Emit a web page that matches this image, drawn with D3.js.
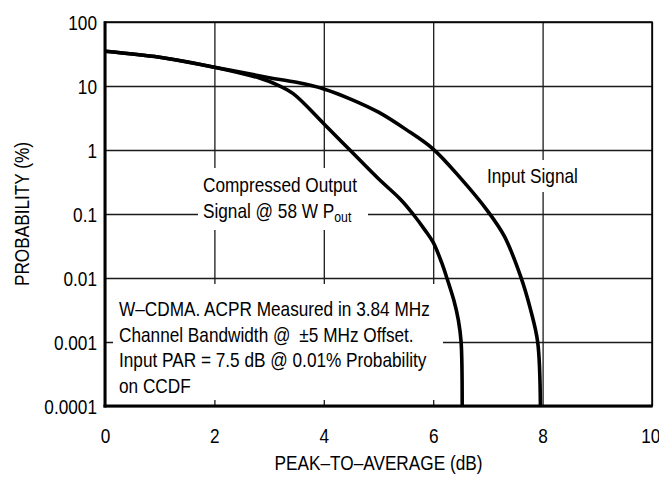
<!DOCTYPE html>
<html><head><meta charset="utf-8">
<script src="https://cdn.jsdelivr.net/npm/d3@7"></script>
<style>body{margin:0;background:#fff}svg{display:block}</style>
</head><body><svg id="c" width="659" height="477"></svg>
<script>
// ---- data ----
const xTicks = [0, 2, 4, 6, 8, 10];
const xTickLabels = ["0", "2", "4", "6", "8", "10"];
const yTicks = [0.0001, 0.001, 0.01, 0.1, 1, 10, 100];
const yTickLabels = ["0.0001", "0.001", "0.01", "0.1", "1", "10", "100"];

const inputDb   = [0, 1, 2, 3, 3.5, 4, 4.5, 5, 5.5, 6, 6.5, 7, 7.3, 7.6, 7.78, 7.91, 7.96];
const inputProb = [35, 28.2, 19.7, 13.5, 11.4, 9.0, 6.2, 3.9, 2.1, 1.035, 0.363, 0.11, 0.045, 0.0105, 0.0032, 0.001, 0.0001];

const compDb   = [0, 1, 2, 2.835, 3.14, 3.44, 4, 4.5, 5, 5.4, 5.63, 5.85, 6, 6.15, 6.25, 6.38, 6.46, 6.51, 6.53];
const compProb = [35, 28.2, 19.7, 13.2, 10.5, 7.6, 2.57, 0.955, 0.355, 0.17, 0.1, 0.056, 0.036, 0.0178, 0.01, 0.0044, 0.0022, 0.001, 0.0001];

const xTitle = "PEAK\u2013TO\u2013AVERAGE (dB)";
const yTitle = "PROBABILITY (%)";
const compLabel1 = "Compressed Output";
const compLabel2 = "Signal @ 58 W P";
const compLabelSub = "out";
const inputLabel = "Input Signal";
const noteLines = [
  "W\u2013CDMA. ACPR Measured in 3.84 MHz",
  "Channel Bandwidth @ ",
  "Input PAR = 7.5 dB @ 0.01% Probability",
  "on CCDF"
];
const noteLine2b = "\u00B15 MHz Offset.";

// ---- font detection ----
function hasFont(name) {
  const c = document.createElement("canvas").getContext("2d");
  const s = "Compressed Output 0123456789 WMmwi";
  c.font = "21px monospace"; const a = c.measureText(s).width;
  c.font = "21px '" + name + "', monospace"; const b = c.measureText(s).width;
  return Math.abs(a - b) > 0.5;
}
let FONT = "'Liberation Sans', Arial, sans-serif", SX = 0.82;
if (hasFont("Liberation Sans Narrow")) { FONT = "'Liberation Sans Narrow', sans-serif"; SX = 1; }
else if (hasFont("Arial Narrow")) { FONT = "'Arial Narrow', sans-serif"; SX = 1; }
const FS = 21;

// ---- layout ----
const L = 105, R = 652, T = 22, B = 406;
const svg = d3.select("#c");
const x = d3.scaleLinear().domain([0, 10]).range([L, R]);
const y = d3.scaleLog().domain([0.0001, 100]).range([B, T]);

function squeeze(sel) {
  sel.each(function () {
    const t = d3.select(this);
    const tx = +t.attr("x") || 0, ty = +t.attr("y") || 0;
    t.attr("x", null).attr("y", null)
     .attr("transform", `translate(${tx},${ty}) scale(${SX},1)`);
  });
}
function addText(g, tx, ty, str, anchor, size) {
  return g.append("text")
    .attr("transform", `translate(${tx},${ty}) scale(${SX},1)`)
    .attr("text-anchor", anchor || "start")
    .attr("font-family", FONT).attr("font-size", size || FS)
    .attr("fill", "#000").text(str);
}

// ---- grid via axes ----
const gx = svg.append("g").attr("transform", `translate(0,${B})`)
  .call(d3.axisBottom(x).tickValues(xTicks).tickFormat((d, i) => xTickLabels[i])
    .tickSizeInner(-(B - T)).tickSizeOuter(0).tickPadding(22));
gx.select(".domain").remove();
gx.selectAll(".tick line").attr("stroke", "#1a1a1a").attr("stroke-width", 1.3);
gx.selectAll(".tick text").attr("font-family", FONT).attr("font-size", FS).attr("fill", "#000");
gx.selectAll(".tick text").filter(d => d === 10).attr("dx", -2);
squeeze(gx.selectAll(".tick text"));

const gy = svg.append("g").attr("transform", `translate(${L},0)`)
  .call(d3.axisLeft(y).tickValues(yTicks).tickFormat((d, i) => yTickLabels[i])
    .tickSizeInner(-(R - L)).tickSizeOuter(0).tickPadding(8));
gy.select(".domain").remove();
gy.selectAll(".tick line").attr("stroke", "#1a1a1a").attr("stroke-width", 1.3);
gy.selectAll(".tick text").attr("font-family", FONT).attr("font-size", FS).attr("fill", "#000").attr("dy", "0.34em");
squeeze(gy.selectAll(".tick text"));

// ---- white label backgrounds ----
const boxes = [
  [198, 168, 368, 230],
  [480, 160, 585, 192],
  [113, 284, 443, 400]
];
svg.append("g").selectAll("rect").data(boxes).join("rect")
  .attr("x", d => d[0]).attr("y", d => d[1])
  .attr("width", d => d[2] - d[0]).attr("height", d => d[3] - d[1])
  .attr("fill", "#fff");

// ---- curves ----
const line = d3.line().x(d => x(d[0])).y(d => y(d[1])).curve(d3.curveCatmullRom.alpha(0.5));
const series = [
  inputDb.map((d, i) => [d, inputProb[i]]),
  compDb.map((d, i) => [d, compProb[i]])
];
svg.append("g").selectAll("path").data(series).join("path")
  .attr("d", line).attr("fill", "none").attr("stroke", "#000")
  .attr("stroke-width", 3.6).attr("stroke-linejoin", "round");

// ---- frame ----
svg.append("rect").attr("x", L).attr("y", T).attr("width", R - L).attr("height", B - T)
  .attr("fill", "none").attr("stroke", "#000").attr("stroke-width", 1.5);
svg.append("line").attr("x1", L).attr("x2", L).attr("y1", T - 0.75).attr("y2", B + 1.5)
  .attr("stroke", "#000").attr("stroke-width", 3);
svg.append("line").attr("x1", L - 1.5).attr("x2", R + 0.75).attr("y1", B).attr("y2", B)
  .attr("stroke", "#000").attr("stroke-width", 3);

// ---- titles ----
const tg = svg.append("g");
addText(tg, (L + R) / 2, 470, xTitle, "middle");
tg.append("text")
  .attr("transform", `translate(28.5,${(T + B) / 2}) rotate(-90) scale(${SX},1)`)
  .attr("text-anchor", "middle").attr("font-family", FONT).attr("font-size", FS)
  .attr("fill", "#000").text(yTitle);

// ---- annotations ----
addText(tg, 203, 191.5, compLabel1);
const c2 = addText(tg, 203, 218, compLabel2);
c2.append("tspan").attr("font-size", 15).attr("dy", 4).text(compLabelSub);
addText(tg, 487, 183, inputLabel);

const noteY = [316, 341.5, 367, 393];
noteLines.forEach((s, i) => {
  const t = addText(tg, 119, noteY[i], s);
  if (i === 1) t.append("tspan").attr("dx", 5).text(noteLine2b);
});
</script>
</body></html>
